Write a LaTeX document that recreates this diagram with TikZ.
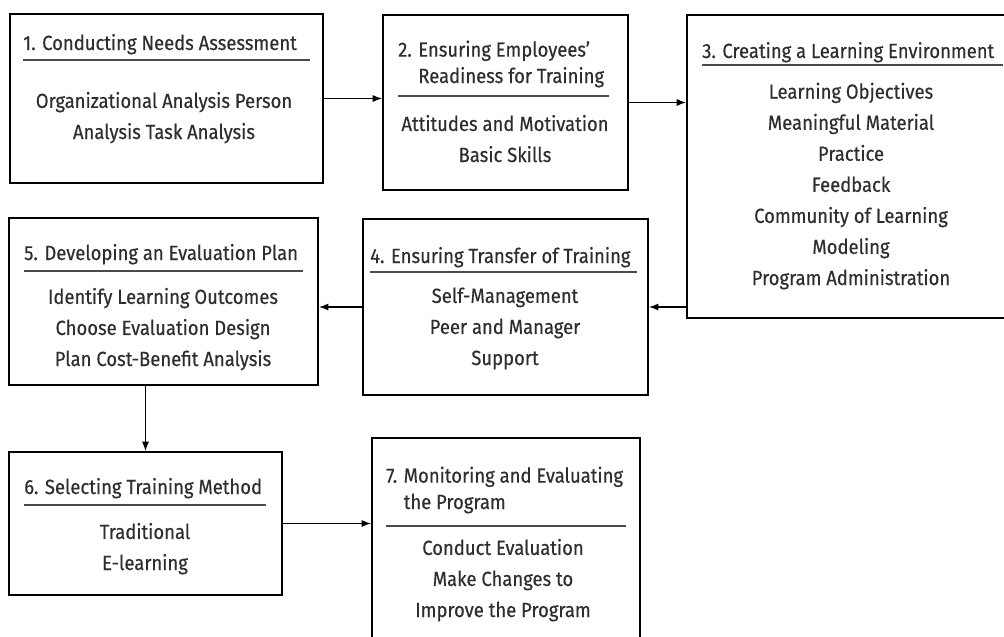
\documentclass[tikz,border=0pt]{standalone}
\usepackage{fontspec}
\setmainfont{Fira Sans}[FakeStretch=0.90, FakeBold=0.4]
\usetikzlibrary{arrows.meta}

\definecolor{txtgrey}{HTML}{2E2E2E}
\definecolor{rulegrey}{HTML}{4A4A4A}

\tikzset{
  stage/.style={draw=black, line width=1.6pt, inner sep=0pt},
  title/.style={anchor=base west, align=left, inner sep=0pt, text=txtgrey,
    font=\fontsize{17.5pt}{22.5pt}\selectfont},
  items/.style={anchor=base, align=center, inner sep=0pt, text=txtgrey,
    font=\fontsize{17.5pt}{26.5pt}\selectfont},
  rule/.style={draw=rulegrey, line width=1.2pt},
  flow/.style={draw=black, line width=1pt, -{Latex[length=8pt,width=6pt]}}
}

\begin{document}
\begin{tikzpicture}[x=0.03cm, y=-0.03cm]
  \useasboundingbox (0,0) rectangle (1004,636);
  \clip (0,0) rectangle (1004,636);

  % Etape 1
  \node[stage, minimum width=9.39cm, minimum height=5.07cm] (b1) at (166.5,98.5) {};
  \node[title] (t1) at (23,50) {1. Conducting Needs Assessment};
  \draw[rule] (23,60) -- (310,60);
  \node[items] (l1) at (164,139) {Organizational Analysis Person\\Analysis Task Analysis};

  % Etape 2
  \node[stage, minimum width=7.35cm, minimum height=5.25cm] (b2) at (505.5,102.5) {};
  \node[title] (t2) at (398,83) {2. Ensuring Employees'\\\phantom{2. }Readiness for Training};
  \draw[rule] (398,96) -- (609,96);
  \node[items] (l2) at (505,162) {Attitudes and Motivation\\Basic Skills};

  % Etape 3
  \node[stage, minimum width=9.75cm, minimum height=9.09cm] (b3) at (849.5,166.5) {};
  \node[title] (t3) at (702,58) {3. Creating a Learning Environment};
  \draw[rule] (702,65) -- (1003,65);
  \node[items] (l3) at (851,285) {Learning Objectives\\Meaningful Material\\Practice\\Feedback\\Community of Learning\\Modeling\\Program Administration};

  % Etape 4
  \node[stage, minimum width=8.55cm, minimum height=5.28cm] (b4) at (505.5,307) {};
  \node[title] (t4) at (370,263) {4. Ensuring Transfer of Training};
  \draw[rule] (370,272) -- (637,272);
  \node[items] (l4) at (505,365) {Self-Management\\Peer and Manager\\Support};

  % Etape 5
  \node[stage, minimum width=9.27cm, minimum height=5.01cm] (b5) at (163.5,301.5) {};
  \node[title] (t5) at (24,260) {5. Developing an Evaluation Plan};
  \draw[rule] (24,271) -- (303,271);
  \node[items] (l5) at (163,366) {Identify Learning Outcomes\\Choose Evaluation Design\\Plan Cost-Benefit Analysis};

  % Etape 6
  \node[stage, minimum width=8.19cm, minimum height=4.29cm] (b6) at (145.5,523.5) {};
  \node[title] (t6) at (24,494) {6. Selecting Training Method};
  \draw[rule] (24,505) -- (266,505);
  \node[items] (l6) at (145,570) {Traditional\\E-learning};

  % Etape 7
  \node[stage, minimum width=8.04cm, minimum height=6.66cm] (b7) at (506,549) {};
  \node[title] (t7) at (386,509) {7. Monitoring and Evaluating\\\phantom{7. }the Program};
  \draw[rule] (386,526) -- (626,526);
  \node[items] (l7) at (503,617) {Conduct Evaluation\\Make Changes to\\Improve the Program};

  % Flèches
  \draw[flow] (b1.east) -- (b1.east -| b2.west);
  \draw[flow] (b2.east) -- (b2.east -| b3.west);
  \draw[flow] (b3.west |- b4.east) -- (b4.east);
  \draw[flow] (b4.west) -- (b4.west -| b5.east);
  \draw[flow] (b6.north |- b5.south) -- (b6.north);
  \draw[flow] (b6.east) -- (b6.east -| b7.west);
\end{tikzpicture}
\end{document}
